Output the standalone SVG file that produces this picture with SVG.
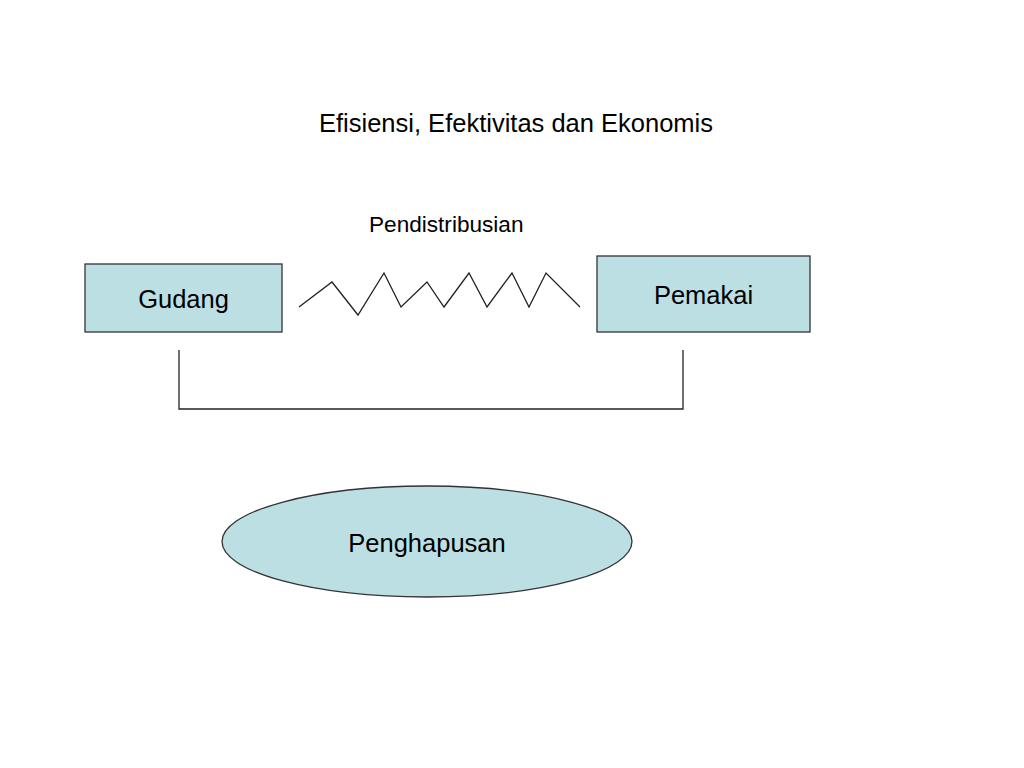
<svg xmlns="http://www.w3.org/2000/svg" width="1024" height="768" viewBox="0 0 1024 768">
<style>
.t{font-family:"Liberation Sans",Arial,sans-serif;fill:#000}
.big{font-size:25.5px}
.small{font-size:22.6px}
.box{fill:#BCDFE3;stroke:#333;stroke-width:1.3}
.ln{fill:none;stroke:#222;stroke-width:1.3}
</style>
<rect width="1024" height="768" fill="#fff"/>
<text id="title" class="t big" x="319" y="132">Efisiensi, Efektivitas dan Ekonomis</text>
<text id="label-pendistribusian" class="t small" x="369" y="232">Pendistribusian</text>
<g id="connectors">
<polyline class="ln" points="299,307 332,282 358,315 384,273 401,307 427,282 444,307 469,273 487,307 512,273 529,307 546,273 580,307"/>
<polyline class="ln" points="179,350 179,409 683,409 683,350"/>
</g>
<g id="gudang">
<rect class="box" x="85" y="264" width="197" height="68"/>
<text class="t big" x="183.5" y="308" text-anchor="middle">Gudang</text>
</g>
<g id="pemakai">
<rect class="box" x="597" y="256" width="213" height="76"/>
<text class="t big" x="703.5" y="304" text-anchor="middle">Pemakai</text>
</g>
<g id="penghapusan">
<ellipse class="box" cx="427" cy="541.5" rx="205" ry="55.5"/>
<text class="t big" x="427" y="552" text-anchor="middle">Penghapusan</text>
</g>
</svg>
